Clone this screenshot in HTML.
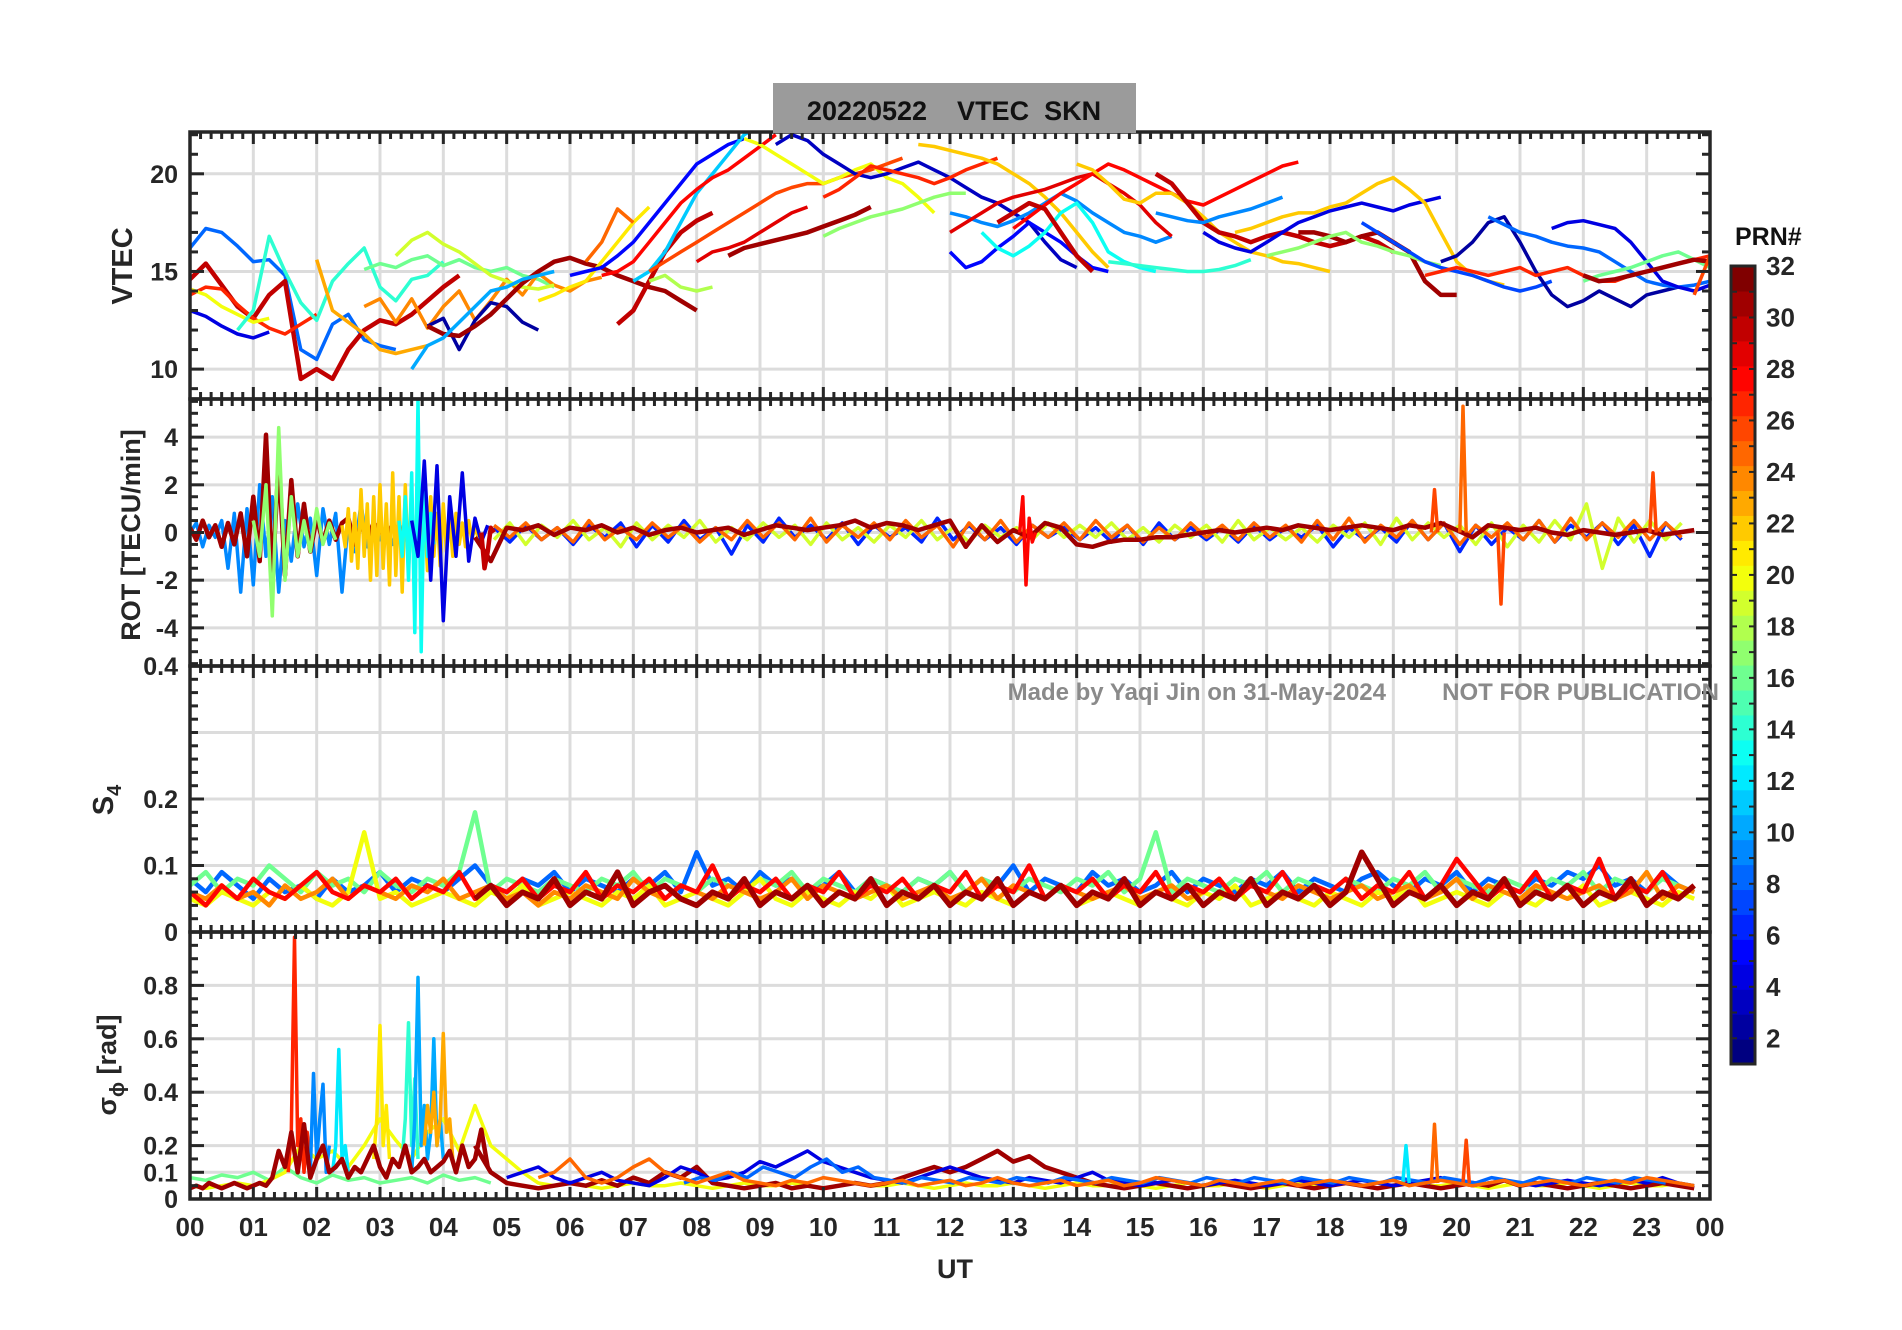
<!DOCTYPE html>
<html><head><meta charset="utf-8"><style>
html,body{margin:0;padding:0;background:#fff;}
svg{display:block;font-family:"Liberation Sans",sans-serif;font-weight:bold;}
</style></head><body>
<svg id="chart" width="1902" height="1330" viewBox="0 0 1902 1330" xmlns="http://www.w3.org/2000/svg">
<rect x="0" y="0" width="1902" height="1330" fill="#fff"/>
<g id="grid"></g><g id="series"></g><g id="axes"></g>
<rect x="773" y="83" width="363" height="50" fill="#9b9b9b"/>
<text x="954" y="120" font-size="27" text-anchor="middle" fill="#111" xml:space="preserve">20220522    VTEC  SKN</text>
<text x="1386" y="700" font-size="24" text-anchor="end" fill="#8a8a8a">Made by Yaqi Jin on 31-May-2024</text>
<text x="1719" y="700" font-size="24" text-anchor="end" fill="#8a8a8a">NOT FOR PUBLICATION</text>
<text x="955" y="1278" font-size="27" text-anchor="middle" fill="#262626">UT</text>
<text transform="translate(132,266) rotate(-90)" font-size="29" text-anchor="middle" fill="#262626">VTEC</text>
<text transform="translate(140,535) rotate(-90)" font-size="27" text-anchor="middle" fill="#262626">ROT [TECU/min]</text>
<text transform="translate(113,800) rotate(-90)" font-size="29" text-anchor="middle" fill="#262626">S<tspan font-size="20" dy="8">4</tspan></text>
<text transform="translate(116,1065) rotate(-90)" font-size="27" text-anchor="middle" fill="#262626">σ<tspan font-size="20" dy="8">ϕ</tspan><tspan dy="-8"> [rad]</tspan></text>
<g id="cbar"></g>
<text x="1735" y="245" font-size="25" fill="#111">PRN#</text>
</svg>
<script>
// ---------------- DATA ----------------
const hourLabels=["00","01","02","03","04","05","06","07","08","09","10","11","12","13","14","15","16","17","18","19","20","21","22","23","00"];
const vtecTicks=[10,15,20];
const rotTicks=[-4,-2,0,2,4];
const s4Ticks=[0,0.1,0.2,0.4];
const sigTicks=[0,0.1,0.2,0.4,0.6,0.8];
const cbarTicks=[2,4,6,8,10,12,14,16,18,20,22,24,26,28,30,32];

const vtecPrn=[8,4,30,27,20,14,23,16,24,19,2,31,10,21,25,30,5,11,18,28,26,29,31,20,3,17,27,22,9,5,13,29,28,30,22,14,30,9,4,22,31,17,7,2,27,8,4,16,31,26];
const vtecStart=[0,0,0,0,0,0.75,2,2.75,2.75,3.25,3.75,3.75,3.5,5.5,6.25,6.75,6,7,7.25,6.5,7.25,8,8.5,8.75,9.25,10,10,11.5,12,12,12.5,12,13,12.75,14,14.5,15.25,15.25,16,16.5,17.5,17,18.5,19.75,19.5,20.5,21.5,22,22,23.75];
const vtecVals=[
[16.2,17.2,17,16.3,15.5,15.6,14.8,11,10.5,12.3,12.8,11.5,11.2,11],
[13,12.7,12.2,11.8,11.6,11.9],
[14.6,15.4,14.3,13.2,12.6,13.8,14.5,9.5,10,9.5,11,12,12.5,12.3,12.8,13.5,14.2,14.8],
[13.8,14.2,14.1,13.3,12.6,12.1,11.8,12.3,12.8],
[14.1,13.8,13.2,12.8,12.4,12.6],
[12,13,16.8,15,13.4,12.5,14.5,15.4,16.2,14.2,13.5,14.6,14.8,15.5],
[15.6,13,12.4,11.8,11,10.8,11,11.2],
[15.1,15.4,15.2,15.6,15.8,15.3,15.6,15.2,15,15.2,14.8,14.6,14.2],
[13.2,13.6,12.4,13.6,12.1,13.2,14,12.5,13.5,14.6,13.8,14.9,14.3,14,14.5,14.7],
[15.8,16.6,17,16.4,16,15.4,14.8,14.5,14.2,14.1,14.3],
[12.2,12.6,11,12.5,13.4,13.2,12.4,12],
[12.2,11.8,11.7,12.2,12.8,13.6,14.4,15,15.5,15.7,15.4,15.2,14.8,14.5,14.2,14,13.5,13],
[10,11.2,11.6,12.4,13.2,14,14.2,14.6,14.8,15],
[13.5,13.8,14.2,14.5,15.5,16.5,17.5,18.3],
[15.5,16.5,18.2,17.5],
[12.3,13,14.5,16,17,17.6,18],
[14.8,15,15.2,15.8,16.5,17.5,18.5,19.5,20.5,21,21.5,21.8],
[14.5,15,16,17.5,19,20,21,22,22.5],
[14.5,14.8,14.2,14,14.2],
[14.8,15,15.5,16.5,17.5,18.5,19.2,19.8,20.2,20.8,21.4,22],
[15,15.5,16,16.5,17,17.5,18,18.5,19,19.3,19.5,19.5,19.8,20,20.2,20.5,20.8],
[15.5,16,16.2,16.5,17,17.5,18,18.3],
[15.8,16.2,16.4,16.6,16.8,17,17.3,17.6,17.9,18.3],
[21.8,21.5,21,20.5,20,19.5,19.8,20.2,20.5,19.8,19.5,18.8,18],
[21.5,22,21.7,21,20.5,20,19.8,20,20.3,20.6,20.2,19.8,19.3,18.8,18.5,18,17.5,16.5,15.6,15.2],
[16.8,17.2,17.5,17.8,18,18.2,18.5,18.8,19,19],
[18.8,19.2,19.8,20.4,20.2,20,19.8,19.5,19.8,20.2,20.5,20.8],
[21.5,21.4,21.2,21,20.8,20.5,20,19.5,18.8,18,17,16,15.2],
[18,17.8,17.5,17.3,17.6,18,18.5,19,18.6,18,17.5,17,16.8,16.5,16.8],
[16,15.2,15.5,16.2,16.8,17.5,17,16.5,15.8,15.2,15],
[17,16.2,15.8,16.3,17,18,18.5,17.5,16,15.5,15.2,15],
[17,17.5,18,18.5,18.8,19,19.2,19.5,19.8,20,19.5,19,18.4,17.5,16.8],
[17.2,17.8,18.4,19,19.5,20,20.5,20.2,19.8,19.4,19,18.6,18.4,18.8,19.2,19.6,20,20.4,20.6],
[17.5,18,18.5,18.2,17,15.8,15],
[20.5,20.2,19.5,18.7,18.5,19,19,18.5,17.8,17,16.5,16,15.8,15.5,15.4,15.2,15],
[15.5,15.4,15.3,15.2,15.1,15,15,15.1,15.3,15.6],
[20,19.5,18.5,17.5,17,16.8,16.5,16.8,17,16.8,16.5,16.3,16.5,16.8,16.5,16],
[18,17.8,17.6,17.5,17.8,18,18.2,18.5,18.8],
[17,16.5,16.2,16,16.5,17,17.5,17.8,18.1,18.3,18.5,18.3,18.1,18.4,18.6,18.8],
[17,17.2,17.5,17.8,18,18,18.3,18.5,19,19.5,19.8,19.2,18.5,17,15.5,14.8,14.5,14.3],
[17,17,16.8,16.5,16.8,17,16.5,16,14.5,13.8,13.8],
[15.8,16,16.2,16.5,16.8,17,16.5,16.3,16,15.8,15.5,15.3],
[17.5,17,16.5,16,15.5,15.2,15,14.8,14.5,14.2,14,14.2,14.5],
[15.5,15.8,16.5,17.5,17.8,16.5,15,13.8,13.2,13.5,14,13.6,13.2,13.8,14,14.2],
[14.8,15,15.2,15,14.8,15,15.2,14.8,15,15.2,14.8,14.5,14.5,14.8,15,15.2,15.4,15.6,15.8,15.5,15.2,15.5,15.8,15.5,15.3],
[17.8,17.4,17,16.8,16.5,16.3,16.2,16,15.5,15,14.5,14.3,14.2,14.3,14.5,14.8,15.2,15.5,15.5,15,13.5,12.5,12.7,13.5,14.5,15],
[17.2,17.5,17.6,17.4,17.2,16.5,15.5,14.5,14.2,14,14.3,14.8,15.2,15.5,16,16.8,17.4,17.2,16.5],
[14.5,14.8,15,15.2,15.5,15.8,16,15.6,15.2,15.8,16.2],
[14.8,14.5,14.6,14.8,15,15.2,15.4,15.6,15.5,15.2,15.5,15.8,16.2,16],
[13.8,15.8]
];

const rotPrn=[9,31,17,22,13,4,6,19,25,31,25,26,26,26,28,30];
const rotStart=[0,0,1,2.4,3.3,3.5,4.8,4.8,4.8,4.5,20.05,19.6,20.65,23.05,13.1,4.6];
const rotStep=[0.1,0.1,0.1,0.05,0.05,0.1,0.25,0.25,0.25,0.25,0.05,0.05,0.05,0.05,0.05,0.05];
const rotVals=[
[0,0.4,-0.6,0.3,-0.2,0.5,-1.5,0.8,-2.5,1,-2.2,2,-1,1.5,-2.5,0.5,-1.2,1.2,-0.6,0.6,-1.8,1,-0.5,0.8,-2.5,0.5,-0.8,1.2,-0.6,0.4,-0.3,0.2,-0.5,0.4,-0.3,0.6,-0.4,0.3],
[0.2,-0.3,0.5,-0.2,0.3,-0.6,0.4,-0.5,0.8,-1,1.5,-1.2,4.1,-2,3,-1.8,2.2,-1,1.2,-0.8,0.6,-0.4,0.5,-0.3,0.4,0.6,-0.5,0.3,-0.2,0.4,0.1,-0.3,0.4,-0.2,0.3],
[0.5,-1,2,-3.5,4.4,-2,1.5,-1,0.5,-0.8,1,-0.5,0.4,-0.3],
[0.3,-0.6,1,-1.2,0.8,-1.5,1.8,-1,1.2,-2,1.5,-1.8,2,-1.5,1.2,-2.2,2.5,-1.8,1.5,-2.5,2,-1.6,1.4,-2,1.8,-1.2,1,-1.6,1.5,-1,0.8,-1.4,1.2,-0.8,0.6,-1,0.8,-0.5,0.4,-0.6,0.5,-0.3,0.2,-0.2],
[0.5,-1,1.5,-2,2.5,-4.2,5.6,-5,2,-1,0.8,-0.5],
[0.5,-1,3,-2,2.8,-3.7,1.5,-1,2.5,-1.2,0.6,-0.4,0.3],
[0.2,-0.4,0.3,-0.3,0.2,-0.5,0.3,-0.2,0.4,-0.6,0.3,-0.4,0.5,-0.3,0.2,-0.9,0.3,-0.4,0.6,-0.2,0.3,-0.3,0.4,-0.5,0.3,-0.2,0.2,-0.4,0.6,-0.3,0.3,-0.3,0.2,-0.5,0.3,-0.2,0.2,-0.3,0.2,-0.4,0.3,-0.5,0.4,-0.3,0.2,-0.3,0.2,-0.4,0.3,-0.3,0.2,-0.2,0.3,-0.6,0.2,-0.3,0.2,-0.4,0.5,-0.3,0.4,-0.8,0.3,-0.5,0.2,-0.3,0.5,-0.4,0.3,-0.2,0.4,-0.5,0.3,-1,0.4,-0.3],
[-0.3,0.4,-0.5,0.3,-0.2,0.5,-0.3,0.2,-0.6,0.4,-0.3,0.3,-0.2,0.5,-0.4,0.2,-0.3,0.4,-0.2,0.3,-0.5,0.4,-0.3,0.2,-0.4,0.3,-0.2,0.5,-0.3,0.2,-0.4,0.3,-0.2,0.2,-0.3,0.4,-0.2,0.3,-0.2,0.4,-0.3,0.2,-0.4,0.3,-0.2,0.3,-0.4,0.5,-0.3,0.2,-0.3,0.2,-0.4,0.3,-0.2,0.4,-0.5,0.6,-0.3,0.4,-0.2,0.3,-0.5,0.4,-0.6,0.3,-0.4,0.5,-0.3,1.2,-1.5,0.6,-0.4,0.5,-0.3,0.4],
[0.3,-0.2,0.4,-0.3,0.2,-0.4,0.5,-0.3,0.2,-0.3,0.4,-0.2,0.3,-0.4,0.2,-0.3,0.5,-0.2,0.4,-0.3,0.6,-0.4,0.3,-0.2,0.4,-0.3,0.5,-0.2,0.3,-0.6,0.4,-0.3,0.5,-0.4,0.3,-0.2,0.4,-0.3,0.5,-0.2,0.3,-0.4,0.2,-0.3,0.4,-0.2,0.3,-0.3,0.4,-0.2,0.3,-0.4,0.5,-0.3,0.6,-0.4,0.3,-0.2,0.5,-0.3,0.4,-0.5,0.3,-0.2,0.4,-0.3,0.5,-0.4,0.6,-0.3,0.4,-0.2,0.5,-0.3,0.4,-0.2],
[-0.2,-1.2,0.2,0.1,0.3,-0.1,0.2,0.1,0.3,0,0.2,-0.1,0.1,0.2,0,0.1,0.2,-0.1,0.1,0.3,0.2,0.1,0.2,0.3,0.5,0.2,0.4,0.3,0.1,0.3,0.5,-0.6,0.3,-0.4,0.1,-0.2,0.4,0.2,-0.5,-0.6,-0.4,-0.3,-0.3,-0.2,-0.2,-0.1,0,0.1,0,0.1,0.2,0.1,0.3,0.2,0.1,0.2,0.3,0.2,0.1,0.3,0.2,0.4,0.1,-0.2,0.3,0.2,0.1,0.2,0,-0.1,0.1,0,-0.1,0,0.1,-0.1,0,0.1],
[0,5.3,0],[0,1.8,0],[0,-3,0],[0,2.5,0],[0,1.5,-2.2,0.6,-0.4,0],[0,-1.5,-0.8,0.2,0]
];

const s4Prn=[8,16,20,24,28,31];
const s4Start=[0,0,0,0,0,4.5];
const s4Step=[0.25,0.25,0.25,0.25,0.25,0.25];
const s4Vals=[
[0.08,0.06,0.09,0.07,0.05,0.08,0.06,0.07,0.05,0.08,0.06,0.07,0.09,0.06,0.08,0.07,0.06,0.08,0.1,0.07,0.06,0.08,0.07,0.09,0.06,0.08,0.07,0.06,0.08,0.07,0.09,0.06,0.12,0.07,0.08,0.06,0.09,0.07,0.08,0.06,0.07,0.09,0.06,0.08,0.07,0.06,0.08,0.07,0.09,0.06,0.08,0.07,0.1,0.06,0.08,0.07,0.06,0.09,0.07,0.08,0.06,0.07,0.09,0.06,0.08,0.07,0.06,0.08,0.07,0.09,0.06,0.08,0.07,0.06,0.08,0.09,0.07,0.06,0.08,0.07,0.09,0.06,0.08,0.07,0.06,0.08,0.07,0.09,0.08,0.1,0.07,0.08,0.06,0.09,0.07,0.06],
[0.07,0.09,0.06,0.08,0.07,0.1,0.08,0.06,0.09,0.07,0.08,0.06,0.09,0.07,0.06,0.08,0.07,0.09,0.18,0.06,0.08,0.07,0.06,0.08,0.07,0.06,0.08,0.07,0.09,0.06,0.08,0.07,0.06,0.08,0.07,0.06,0.08,0.07,0.09,0.06,0.08,0.07,0.06,0.08,0.07,0.06,0.08,0.07,0.09,0.06,0.08,0.07,0.06,0.08,0.07,0.06,0.08,0.07,0.09,0.06,0.08,0.15,0.06,0.08,0.07,0.06,0.08,0.07,0.09,0.06,0.08,0.07,0.06,0.08,0.07,0.06,0.08,0.07,0.09,0.06,0.08,0.07,0.06,0.08,0.07,0.06,0.08,0.07,0.09,0.06,0.08,0.07,0.06,0.08,0.07,0.06],
[0.05,0.04,0.06,0.05,0.04,0.06,0.05,0.07,0.05,0.04,0.06,0.15,0.05,0.06,0.04,0.05,0.06,0.05,0.04,0.06,0.05,0.07,0.04,0.05,0.06,0.05,0.04,0.06,0.05,0.07,0.04,0.05,0.06,0.05,0.04,0.06,0.08,0.05,0.04,0.06,0.05,0.04,0.06,0.05,0.07,0.04,0.05,0.06,0.05,0.04,0.06,0.05,0.04,0.06,0.05,0.07,0.04,0.05,0.06,0.05,0.04,0.06,0.05,0.04,0.06,0.05,0.07,0.04,0.05,0.06,0.05,0.04,0.06,0.05,0.04,0.06,0.05,0.07,0.04,0.05,0.06,0.05,0.04,0.06,0.05,0.04,0.06,0.05,0.07,0.04,0.05,0.06,0.05,0.04,0.06,0.05],
[0.06,0.05,0.07,0.05,0.06,0.04,0.07,0.05,0.06,0.08,0.05,0.07,0.06,0.05,0.07,0.06,0.08,0.05,0.06,0.07,0.05,0.06,0.04,0.06,0.05,0.07,0.06,0.05,0.08,0.06,0.05,0.07,0.06,0.05,0.07,0.06,0.05,0.06,0.08,0.05,0.07,0.06,0.05,0.06,0.07,0.05,0.06,0.07,0.05,0.06,0.08,0.05,0.07,0.06,0.05,0.07,0.06,0.05,0.06,0.07,0.05,0.06,0.07,0.05,0.06,0.08,0.05,0.07,0.06,0.05,0.07,0.06,0.05,0.06,0.07,0.05,0.06,0.07,0.05,0.06,0.08,0.05,0.07,0.06,0.05,0.07,0.06,0.05,0.06,0.07,0.05,0.06,0.09,0.05,0.07,0.06],
[0.06,0.04,0.07,0.05,0.08,0.06,0.05,0.07,0.09,0.06,0.05,0.07,0.06,0.08,0.05,0.07,0.06,0.09,0.05,0.07,0.06,0.08,0.05,0.07,0.06,0.09,0.05,0.07,0.06,0.08,0.05,0.07,0.06,0.1,0.05,0.07,0.06,0.08,0.05,0.07,0.06,0.09,0.05,0.07,0.06,0.08,0.05,0.07,0.06,0.09,0.05,0.07,0.06,0.1,0.05,0.07,0.06,0.08,0.05,0.07,0.06,0.09,0.05,0.07,0.06,0.08,0.05,0.07,0.06,0.09,0.05,0.07,0.06,0.08,0.05,0.07,0.06,0.09,0.05,0.07,0.11,0.08,0.05,0.07,0.06,0.09,0.05,0.07,0.06,0.11,0.05,0.07,0.06,0.09,0.05,0.07],
[0.05,0.07,0.04,0.06,0.05,0.08,0.04,0.06,0.05,0.09,0.04,0.06,0.07,0.05,0.04,0.06,0.05,0.08,0.04,0.06,0.05,0.07,0.04,0.06,0.05,0.08,0.04,0.06,0.05,0.07,0.04,0.06,0.05,0.08,0.04,0.06,0.05,0.07,0.04,0.06,0.05,0.08,0.04,0.06,0.05,0.07,0.04,0.06,0.05,0.08,0.04,0.06,0.05,0.07,0.04,0.06,0.12,0.08,0.04,0.06,0.05,0.07,0.04,0.06,0.05,0.08,0.04,0.06,0.05,0.07,0.04,0.06,0.05,0.08,0.04,0.06,0.05,0.07]
];

const sigPrn=[16,20,27,9,12,21,14,10,23,31,31,4,8,25,26,12,25];
const sigStart=[0,0,1.55,1.9,2.25,2.9,3.35,3.5,3.7,0,4.5,5,7.8,19.6,20.1,19.15,5.5];
const sigStep=[0.25,0.25,0.05,0.05,0.05,0.05,0.05,0.05,0.05,0.1,0.25,0.25,0.25,0.05,0.05,0.05,0.25];
const sigVals=[
[0.08,0.07,0.09,0.08,0.1,0.07,0.12,0.08,0.06,0.09,0.07,0.08,0.06,0.07,0.08,0.06,0.09,0.07,0.08,0.06],
[0.05,0.04,0.05,0.06,0.05,0.07,0.1,0.2,0.15,0.18,0.12,0.2,0.3,0.22,0.15,0.25,0.3,0.18,0.35,0.2,0.15,0.1,0.06,0.05,0.06,0.05,0.04,0.05,0.06,0.05,0.05,0.06,0.05,0.04,0.05,0.06,0.05,0.05,0.06,0.05,0.04,0.05,0.06,0.05,0.05,0.06,0.05,0.04,0.05,0.06,0.05,0.05,0.06,0.05,0.04,0.05,0.06,0.05,0.05,0.06,0.05,0.04,0.05,0.06,0.05,0.05,0.06,0.05,0.04,0.05,0.06,0.05,0.05,0.06,0.05,0.04,0.05,0.06,0.05,0.05,0.06,0.05,0.04,0.05,0.06,0.05,0.05,0.06,0.05,0.04,0.05,0.06,0.05,0.05,0.06,0.05],
[0.1,0.25,0.98,0.2,0.3,0.1,0.25,0.15],
[0.1,0.47,0.15,0.3,0.43,0.1,0.2],
[0.1,0.2,0.56,0.15,0.2,0.1],
[0.15,0.3,0.65,0.2,0.35,0.15],
[0.15,0.3,0.66,0.2,0.45,0.15],
[0.1,0.3,0.83,0.2,0.35,0.15,0.25,0.6,0.2,0.3,0.15],
[0.2,0.35,0.25,0.4,0.2,0.3,0.62,0.25,0.3,0.15,0.1],
[0.04,0.05,0.04,0.06,0.05,0.04,0.05,0.06,0.05,0.04,0.05,0.06,0.05,0.08,0.18,0.12,0.25,0.1,0.28,0.08,0.15,0.2,0.1,0.12,0.15,0.08,0.12,0.1,0.15,0.2,0.12,0.08,0.15,0.12,0.2,0.1,0.12,0.15,0.1,0.12,0.14,0.18,0.1,0.2,0.12,0.15,0.26,0.12],
[0.2,0.1,0.06,0.05,0.04,0.05,0.06,0.05,0.07,0.05,0.08,0.06,0.1,0.08,0.12,0.06,0.05,0.04,0.05,0.06,0.04,0.05,0.04,0.05,0.06,0.05,0.06,0.08,0.1,0.12,0.1,0.12,0.15,0.18,0.14,0.16,0.12,0.1,0.08,0.06,0.05,0.04,0.05,0.06,0.05,0.04,0.05,0.06,0.05,0.04,0.05,0.06,0.05,0.04,0.05,0.06,0.05,0.04,0.05,0.06,0.05,0.04,0.05,0.06,0.05,0.07,0.05,0.06,0.05,0.04,0.05,0.06,0.05,0.04,0.05,0.06,0.05,0.04],
[0.08,0.1,0.12,0.08,0.06,0.08,0.1,0.07,0.06,0.05,0.08,0.12,0.1,0.07,0.08,0.1,0.14,0.12,0.15,0.18,0.14,0.12,0.1,0.08,0.07,0.06,0.08,0.1,0.12,0.1,0.08,0.07,0.06,0.08,0.07,0.06,0.08,0.1,0.07,0.06,0.05,0.06,0.07,0.06,0.05,0.06,0.07,0.06,0.05,0.06,0.07,0.06,0.05,0.06,0.07,0.06,0.05,0.06,0.07,0.08,0.06,0.05,0.06,0.07,0.06,0.05,0.06,0.07,0.06,0.05,0.06,0.07,0.06,0.08,0.06,0.05],
[0.06,0.08,0.07,0.1,0.08,0.12,0.1,0.08,0.12,0.15,0.1,0.12,0.08,0.07,0.06,0.08,0.07,0.06,0.08,0.07,0.06,0.08,0.07,0.06,0.08,0.07,0.06,0.08,0.07,0.06,0.08,0.07,0.06,0.08,0.07,0.06,0.08,0.07,0.06,0.08,0.07,0.06,0.08,0.07,0.06,0.08,0.07,0.06,0.08,0.07,0.06,0.08,0.07,0.06,0.08,0.07,0.06,0.08,0.07,0.06,0.08,0.07,0.06],
[0.06,0.28,0.06],[0.06,0.22,0.06],[0.06,0.2,0.06],
[0.08,0.1,0.15,0.08,0.06,0.08,0.12,0.15,0.1,0.08,0.06,0.08,0.1,0.07,0.06,0.05,0.07,0.06,0.08,0.07,0.06,0.05,0.06,0.07,0.05,0.06,0.07,0.05,0.06,0.08,0.06,0.05,0.06,0.07,0.05,0.06,0.07,0.05,0.06,0.08,0.07,0.06,0.05,0.07,0.06,0.05,0.06,0.07,0.05,0.06,0.07,0.06,0.05,0.06,0.07,0.05,0.06,0.07,0.06,0.05,0.06,0.07,0.05,0.06,0.07,0.06,0.05,0.06,0.07,0.06,0.08,0.07,0.06,0.05]
];

// ---------------- LAYOUT ----------------
const X0=190,X1=1710;
const panels=[
 {name:'vtec',top:132,bot:399,min:8.47,max:22.14,ticks:vtecTicks,grid:[10,15,20],minor:1,prn:vtecPrn,start:vtecStart,step:()=>0.25,vals:vtecVals,w:3.5},
 {name:'rot',top:399,bot:666,min:-5.6,max:5.6,ticks:rotTicks,grid:[-4,-2,0,2,4],minor:0.5,prn:rotPrn,start:rotStart,step:i=>rotStep[i],vals:rotVals,w:3.5},
 {name:'s4',top:666,bot:932,min:0,max:0.4,ticks:s4Ticks,grid:[0.1,0.2,0.3],minor:0.02,prn:s4Prn,start:s4Start,step:i=>s4Step[i],vals:s4Vals,w:4.5},
 {name:'sigma',top:932,bot:1199,min:0,max:1.0,ticks:sigTicks,grid:[0.1,0.2,0.4,0.6,0.8],minor:0.05,prn:sigPrn,start:sigStart,step:i=>sigStep[i],vals:sigVals,w:3.5}
];
const NS='http://www.w3.org/2000/svg';
function xs(h){return X0+(X1-X0)*h/24;}
function ys(p,v){return p.bot-(p.bot-p.top)*(v-p.min)/(p.max-p.min);}
function jet(prn){const t=(prn-1)/31;const c=x=>Math.round(255*Math.max(0,Math.min(1,x)));
 return `rgb(${c(1.5-Math.abs(4*t-3))},${c(1.5-Math.abs(4*t-2))},${c(1.5-Math.abs(4*t-1))})`;}
function mk(tag,attrs,parent){const e=document.createElementNS(NS,tag);for(const k in attrs)e.setAttribute(k,attrs[k]);parent.appendChild(e);return e;}
const gGrid=document.getElementById('grid'),gSer=document.getElementById('series'),gAx=document.getElementById('axes'),gCb=document.getElementById('cbar');

panels.forEach(p=>{
 for(let h=1;h<24;h++){const l=mk('line',{x1:xs(h),x2:xs(h),y1:p.top,y2:p.bot,stroke:'#dcdcdc','stroke-width':3},gGrid);
  
  }
 p.grid.forEach(v=>{const l=mk('line',{x1:X0,x2:X1,y1:ys(p,v),y2:ys(p,v),stroke:'#dcdcdc','stroke-width':3},gGrid);
  
  });
 const clip=mk('clipPath',{id:'clip-'+p.name},gSer);mk('rect',{x:X0,y:p.top,width:X1-X0,height:p.bot-p.top},clip);
 const g=mk('g',{'clip-path':'url(#clip-'+p.name+')'},gSer);
 
 
 p.vals.forEach((arr,i)=>{const st=p.step(i);
  const pts=arr.map((v,j)=>xs(p.start[i]+j*st).toFixed(1)+','+ys(p,v).toFixed(1)).join(' ');
  const pl=mk('polyline',{points:pts,fill:'none',stroke:jet(p.prn[i]),'stroke-width':p.prn[i]>=30?p.w+1:p.w,'stroke-linejoin':'round'},g);
  
  });
 const box=mk('rect',{x:X0,y:p.top,width:X1-X0,height:p.bot-p.top,fill:'none',stroke:'#262626','stroke-width':3.5},gAx);
 
 
 for(let m=0;m<=24*6;m++){const x=xs(m/6);const L=(m%6===0)?12:7;
  mk('line',{x1:x,x2:x,y1:p.top,y2:p.top+L,stroke:'#262626','stroke-width':3},gAx);
  mk('line',{x1:x,x2:x,y1:p.bot,y2:p.bot-L,stroke:'#262626','stroke-width':3},gAx);}
 const n0=Math.ceil(p.min/p.minor),n1=Math.floor(p.max/p.minor);
 for(let n=n0;n<=n1;n++){const v=n*p.minor;const y=ys(p,v);const major=p.ticks.some(t=>Math.abs(t-v)<1e-9);const L=major?14:8;
  mk('line',{x1:X0,x2:X0+L,y1:y,y2:y,stroke:'#262626','stroke-width':3},gAx);
  mk('line',{x1:X1,x2:X1-L,y1:y,y2:y,stroke:'#262626','stroke-width':3},gAx);}
 p.ticks.forEach(v=>{const t=mk('text',{x:178,y:ys(p,v)+9,'font-size':25,'text-anchor':'end',fill:'#262626'},gAx);t.textContent=String(v);
  
  });
});
hourLabels.forEach((s,i)=>{const t=mk('text',{x:xs(i),y:1236,'font-size':26,'text-anchor':'middle',fill:'#262626'},gAx);t.textContent=s;
 
 });
// colorbar
const CB0=1064,CB1=266,CBX=1731,CBW=24;
function cy(v){return CB0-(CB0-CB1)*(v-1)/31;}
const segH=(CB0-CB1)/32;
for(let k=1;k<=32;k++){const r=mk('rect',{x:CBX,y:CB1+(32-k)*segH,width:CBW,height:segH+0.6,fill:jet(k)},gCb);
 
 }
const cbb=mk('rect',{x:CBX,y:CB1,width:CBW,height:CB0-CB1,fill:'none',stroke:'#262626','stroke-width':3},gCb);


for(let k=1;k<=32;k++){const y=cy(k);
 mk('line',{x1:CBX,x2:CBX+6,y1:y,y2:y,stroke:'#262626','stroke-width':2},gCb);
 mk('line',{x1:CBX+CBW,x2:CBX+CBW-6,y1:y,y2:y,stroke:'#262626','stroke-width':2},gCb);}
cbarTicks.forEach(v=>{const t=mk('text',{x:1766,y:cy(v)+9,'font-size':26,fill:'#262626'},gCb);t.textContent=String(v);
 
 });
</script>
</body></html>
